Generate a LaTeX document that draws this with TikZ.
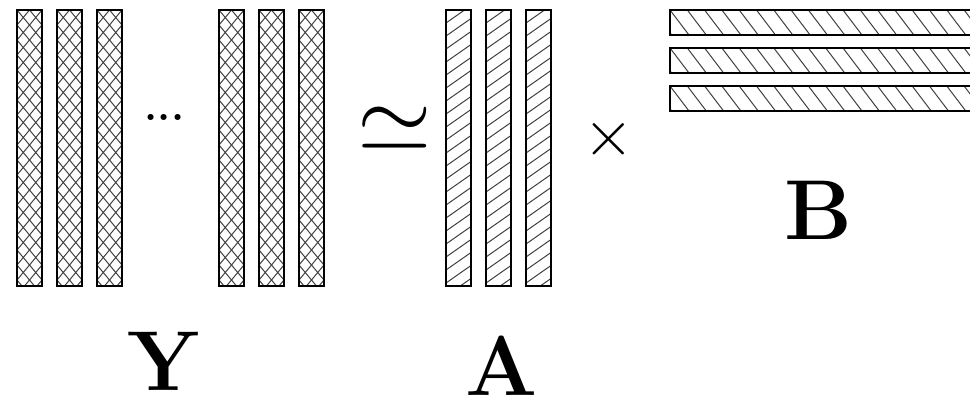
\RequirePackage{fix-cm}
\documentclass[tikz,border=0pt]{standalone}
\begin{document}
\begin{tikzpicture}[x=1pt,y=-1pt,
  barframe/.style={draw=black,line width=1.3pt},
  hatchline/.style={draw=black!75,line width=1pt},
  biglabel/.style={font=\fontsize{85}{85}\selectfont\bfseries, inner sep=0pt, anchor=base},
  symb/.style={inner sep=0pt, anchor=base}]
\useasboundingbox (0,0) rectangle (970,400);
\clip (0,0) rectangle (970,400);
% Y bars: cross-hatched
\foreach \x in {17,57,97,219,259,299}{
  \begin{scope}
    \clip (\x,10) rectangle ++(25,276);
    \foreach \n in {-3,...,21}{
      \draw[hatchline] (\x,10+\n*15) -- ++(25,-30);
      \draw[hatchline] (\x,10+\n*15) -- ++(25,30);
    }
  \end{scope}
  \draw[barframe] (\x,10) rectangle ++(25,276);
}
% A bars: single hatching, rising to the right
\foreach \x in {446,486,526}{
  \begin{scope}
    \clip (\x,10) rectangle ++(25,276);
    \foreach \n in {-2,...,24}{
      \draw[hatchline] (\x,10+\n*13) -- ++(25,-17.5);
    }
  \end{scope}
  \draw[barframe] (\x,10) rectangle ++(25,276);
}
% B bars: horizontal, hatching falling to the right
\foreach \y in {10,48,86}{
  \begin{scope}
    \clip (670,\y) rectangle ++(330,25);
    \foreach \n in {-2,...,20}{
      \draw[hatchline] (670+\n*17.3,\y) -- ++(19,25);
    }
  \end{scope}
  \draw[barframe] (670,\y) rectangle ++(330,25);
}
% symbols and labels
\node[symb, font=\fontsize{42}{44}\selectfont\bfseries] (dots) at (164.5,120) {...};
\node[symb, font=\fontsize{95.8}{96}\selectfont] (approx) at (394.5,151.7) {$\simeq$};
\node[symb, font=\fontsize{65}{66}\selectfont] (times) at (609,155.6) {$\times$};
\node[biglabel] (Y) at (164,390) {Y};
\node[biglabel] (A) at (502,395) {A};
\node[biglabel] (B) at (818,239) {B};
\end{tikzpicture}
\end{document}
